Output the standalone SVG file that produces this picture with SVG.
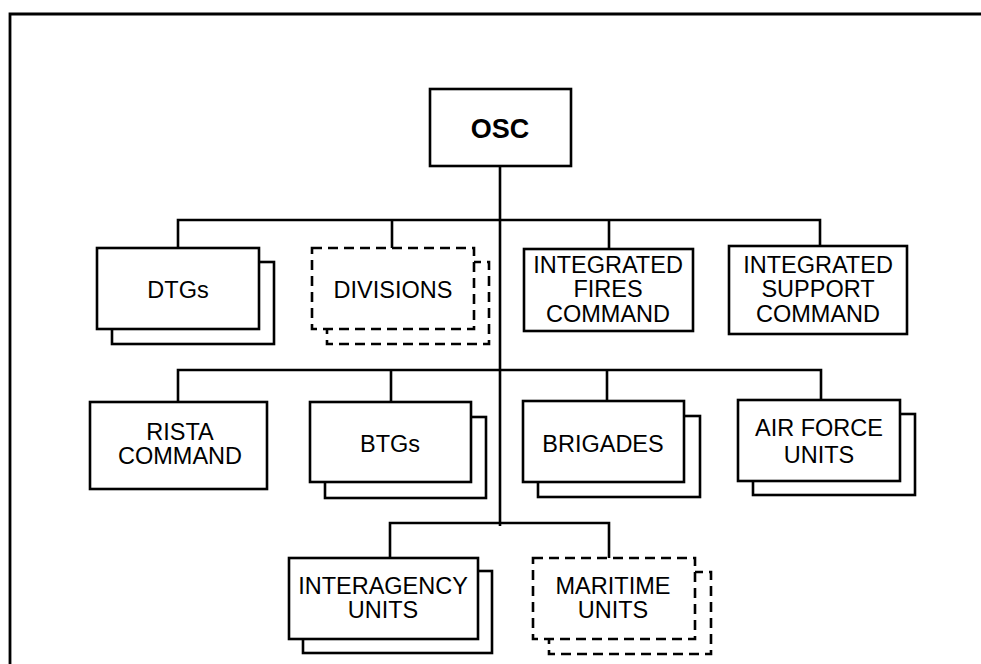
<svg xmlns="http://www.w3.org/2000/svg" width="981" height="664" viewBox="0 0 981 664">
<style>
.box{fill:#fff;stroke:#000;stroke-width:2.6}
.dash{fill:#fff;stroke:#000;stroke-width:2.6;stroke-dasharray:10 6}
.conn{fill:none;stroke:#000;stroke-width:2.6}
text{font-family:"Liberation Sans",Arial,sans-serif;font-size:23.5px;text-anchor:middle;fill:#000}
.bold{font-weight:bold;font-size:27px}
</style>
<rect width="981" height="664" fill="#fff"/>
<path d="M10,664 V14 H981" fill="none" stroke="#000" stroke-width="2.8"/>
<g id="connectors">
<path class="conn" d="M500,166 V526"/>
<path class="conn" d="M178,248 V220 H820 V246 M392,220 V248 M609,220 V249"/>
<path class="conn" d="M178,402 V370 H821 V400 M391,370 V402 M607,370 V401"/>
<path class="conn" d="M390,558 V523 H609 V558"/>
</g>
<g id="osc">
<rect class="box" x="430" y="89" width="141" height="77"/>
<text class="bold" x="500" y="138">OSC</text>
</g>
<g id="dtgs">
<rect class="box" x="112" y="262" width="162" height="82"/>
<rect class="box" x="97" y="248" width="162" height="81"/>
<text x="178" y="298">DTGs</text>
</g>
<g id="divisions">
<rect class="dash" x="327" y="262" width="162" height="82"/>
<rect class="dash" x="312" y="248" width="162" height="81"/>
<text x="393" y="298">DIVISIONS</text>
</g>
<g id="ifc">
<rect class="box" x="524" y="249" width="169" height="82"/>
<text x="608" y="273">INTEGRATED</text>
<text x="608" y="297">FIRES</text>
<text x="608" y="322">COMMAND</text>
</g>
<g id="isc">
<rect class="box" x="729" y="246" width="178" height="88"/>
<text x="818" y="273">INTEGRATED</text>
<text x="818" y="297">SUPPORT</text>
<text x="818" y="322">COMMAND</text>
</g>
<g id="rista">
<rect class="box" x="90" y="402" width="177" height="87"/>
<text x="180" y="440">RISTA</text>
<text x="180" y="464">COMMAND</text>
</g>
<g id="btgs">
<rect class="box" x="325" y="417" width="161" height="81"/>
<rect class="box" x="310" y="402" width="161" height="80"/>
<text x="390" y="452">BTGs</text>
</g>
<g id="brigades">
<rect class="box" x="538" y="416" width="162" height="81"/>
<rect class="box" x="523" y="401" width="161" height="81"/>
<text x="603" y="452">BRIGADES</text>
</g>
<g id="airforce">
<rect class="box" x="753" y="414" width="162" height="81"/>
<rect class="box" x="738" y="400" width="162" height="81"/>
<text x="819" y="436">AIR FORCE</text>
<text x="819" y="463">UNITS</text>
</g>
<g id="interagency">
<rect class="box" x="303" y="571" width="189" height="82"/>
<rect class="box" x="289" y="558" width="189" height="81"/>
<text x="383" y="594">INTERAGENCY</text>
<text x="383" y="618">UNITS</text>
</g>
<g id="maritime">
<rect class="dash" x="549" y="572" width="162" height="82"/>
<rect class="dash" x="533" y="558" width="162" height="81"/>
<text x="613" y="594">MARITIME</text>
<text x="613" y="618">UNITS</text>
</g>
</svg>
